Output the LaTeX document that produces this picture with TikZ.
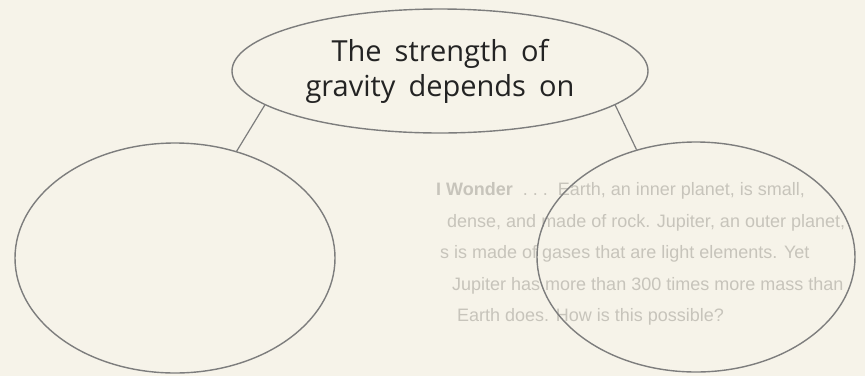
\documentclass[tikz,border=0pt]{standalone}
\usepackage{fontspec}
\setmainfont{Open Sans}
\newfontfamily\ghostfont{Liberation Sans}
\usetikzlibrary{shapes.geometric}
\definecolor{paper}{RGB}{246,243,233}
\definecolor{inkline}{RGB}{125,125,125}
\definecolor{inktext}{RGB}{35,35,35}
\definecolor{ghost}{RGB}{199,196,187}
\newcommand\widewords{\spaceskip=0.45em\relax}
\tikzset{
  bubble/.style={ellipse, draw=inkline, line width=1.4pt, inner sep=0pt},
  link/.style={draw=inkline, line width=1.2pt},
  ghostline/.style={anchor=base west, inner sep=0pt, text=ghost, font=\ghostfont\fontsize{18}{22}\selectfont}
}
\begin{document}
\begin{tikzpicture}[x=1pt,y=-1pt]
\fill[paper] (0,0) rectangle (865,376);
\useasboundingbox (0,0) rectangle (865,376);
% faint show-through text
\node[ghostline] (g1) at (436,195) {\textbf{I Wonder}\ \ .\ .\ .\ \ Earth,\ an\ inner\ planet,\ is\ small,};
\node[ghostline] (g2) at (447,227) {dense, and made of rock. Jupiter, an outer planet,};
\node[ghostline] (g3) at (440,258) {s is made of gases that are light elements. Yet};
\node[ghostline] (g4) at (452,290) {Jupiter has more than 300 times more mass than};
\node[ghostline] (g5) at (457,321) {Earth does. How is this possible?};
% diagram
\node[bubble, minimum width=416pt, minimum height=124pt, align=center, text=inktext,
      font=\fontsize{29}{35}\selectfont\widewords] (top) at (440,71)
  {The strength of\\gravity depends on};
\node[bubble, minimum width=320pt, minimum height=230pt] (left) at (175,258) {};
\node[bubble, minimum width=318pt, minimum height=230pt] (right) at (696,257) {};
\draw[link] (top.191) -- (left.60);
\draw[link] (top.-11) -- (right.119);
\end{tikzpicture}
\end{document}
